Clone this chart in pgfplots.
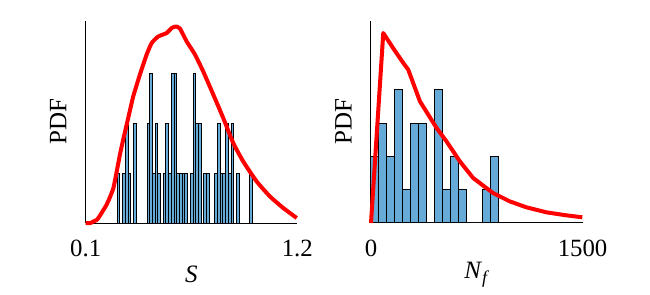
\documentclass[border=0pt]{standalone}
\usepackage{fontspec}
\setmainfont{Liberation Serif}
\usepackage{pgfplots}
\pgfplotsset{compat=1.18}
\definecolor{histblue}{RGB}{102,170,215}
\pgfplotsset{
  myax/.style={
    scale only axis,
    width=105.8pt, height=101.15pt,
    anchor=south west,
    axis x line*=bottom, axis y line*=left,
    axis line style={black, line width=0.5pt},
    ytick=\empty,
    major tick length=0pt,
    ymin=0,
    clip=false,
    font=\fontsize{12.5}{14}\selectfont,
    /pgf/number format/assume math mode=true,
    xticklabel style={anchor=base, yshift=-16.9pt, font=\fontsize{12.4}{14}\selectfont},
    ylabel style={at={(axis description cs:-0.13,0.5)}, anchor=center, rotate=0},
    xlabel style={at={(axis description cs:0.5,-0.255)}, anchor=center},
    ylabel={PDF},
  },
  hist/.style={ybar interval, fill=histblue, draw=black, line width=0.5pt},
  pdfline/.style={red, line width=2pt, line join=round, smooth, tension=0.3},
}
\begin{document}
\begin{tikzpicture}
\useasboundingbox (0,0) rectangle (325pt,147.5pt);
\begin{axis}[myax, at={(42.85pt,36pt)},
  xmin=0.1, xmax=1.2, ymax=4.046,
  xtick={0.1,1.2}, xticklabels={0.1,1.2},
  xlabel={\textit{S}}]
\addplot[hist] coordinates {
(0.2640,1) (0.2781,0) (0.2922,1) (0.3062,2) (0.3203,1) (0.3344,0) (0.3485,2) (0.3626,0)
(0.3766,0) (0.3907,0) (0.4048,0) (0.4189,2) (0.4330,3) (0.4470,1) (0.4611,2) (0.4752,1)
(0.4893,0) (0.5034,1) (0.5174,2) (0.5315,1) (0.5456,3) (0.5597,3) (0.5738,1) (0.5878,1)
(0.6019,1) (0.6160,1) (0.6301,0) (0.6442,1) (0.6582,3) (0.6723,2) (0.6864,2) (0.7005,0)
(0.7146,1) (0.7286,1) (0.7427,0) (0.7568,0) (0.7709,1) (0.7850,2) (0.7990,1) (0.8131,1)
(0.8272,2) (0.8413,1) (0.8554,2) (0.8694,0) (0.8835,1) (0.8976,0) (0.9117,0) (0.9258,0)
(0.9398,0) (0.9539,1) (0.9680,0)
};
\addplot[pdfline] coordinates {
(0.100,0.00) (0.125,0.00) (0.140,0.03) (0.157,0.06) (0.166,0.10) (0.209,0.37) (0.244,0.70)
(0.278,1.37) (0.295,1.67) (0.321,2.10) (0.347,2.53) (0.382,2.97) (0.417,3.37)
(0.443,3.60) (0.477,3.73) (0.521,3.80) (0.547,3.90) (0.569,3.93) (0.590,3.89)
(0.625,3.63) (0.668,3.37) (0.711,3.03) (0.763,2.57) (0.815,2.10) (0.867,1.60)
(0.919,1.23) (0.989,0.83) (1.058,0.53) (1.127,0.30) (1.197,0.10)
};
\end{axis}
\begin{axis}[myax, at={(185.5pt,36pt)},
  xmin=0, xmax=1500, ymax=6.07,
  xtick={0,1500}, xticklabels={0,1500},
  xlabel={\textit{N}\raisebox{-0.45ex}{\fontsize{9}{10}\selectfont\textit{f}}}]
\addplot[hist] coordinates {
(0,2) (56.5,3) (113,2) (169.5,4) (226,1) (282.5,3) (339,3) (395.5,0)
(452,4) (508.5,1) (565,2) (621.5,1) (678,0) (734.5,0) (791,1) (847.5,2) (904,0)
};
\addplot[red, line width=2pt, line join=round] coordinates {
(0,0) (87,5.7) (158,5.24) (229,4.8) (264,4.6) (347,3.65) (465,2.85) (535,2.45)
(630,1.85) (724,1.35) (865,0.9) (983,0.65) (1102,0.47) (1243,0.32) (1385,0.23) (1498,0.17)
};
\end{axis}
\end{tikzpicture}
\end{document}
